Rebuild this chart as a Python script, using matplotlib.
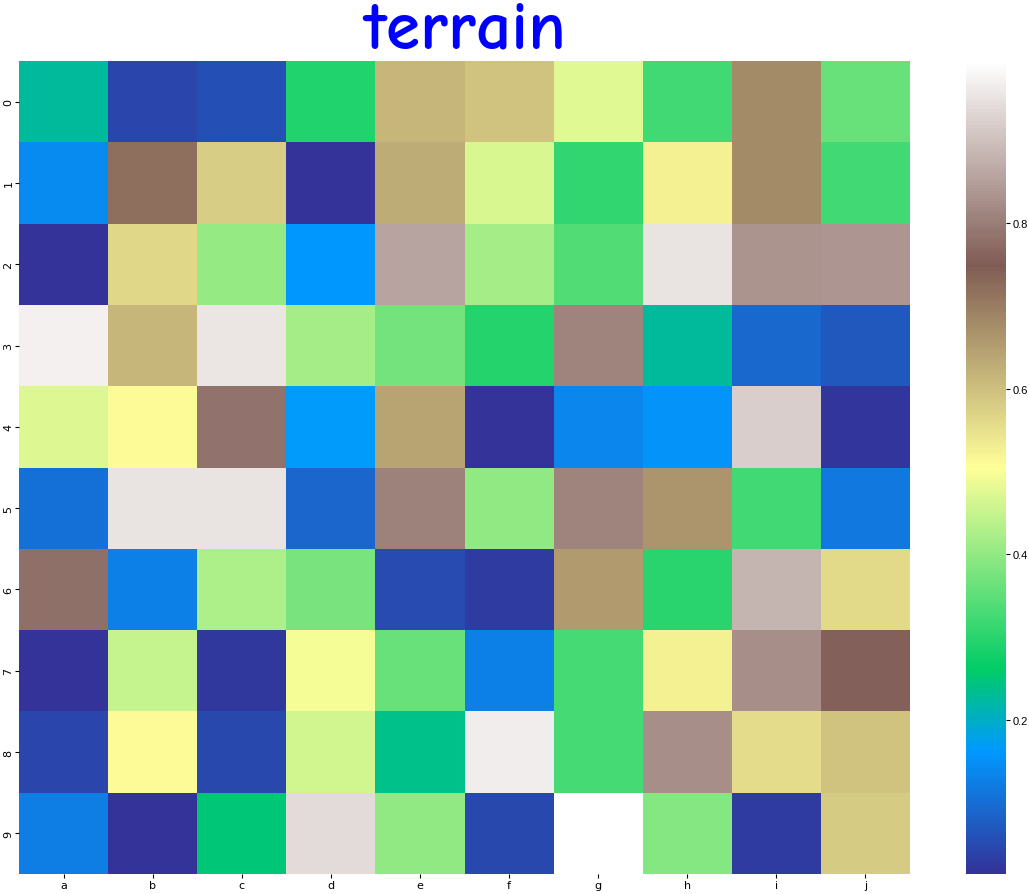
import numpy as np
import pandas as pd
import matplotlib
matplotlib.use("Agg")
import matplotlib.pyplot as plt
import seaborn as sns

cols = ["a", "b", "c", "d", "e", "f", "g", "h", "i", "j"]
rows = [str(i) for i in range(10)]

row0 = [0.225, 0.043, 0.058, 0.291, 0.615, 0.597, 0.475, 0.322, 0.679, 0.362]
row1 = [0.144, 0.720, 0.579, 0.015, 0.629, 0.470, 0.308, 0.527, 0.680, 0.322]
row2 = [0.015, 0.563, 0.405, 0.160, 0.856, 0.420, 0.340, 0.953, 0.832, 0.835]
row3 = [0.970, 0.615, 0.955, 0.418, 0.373, 0.297, 0.810, 0.225, 0.093, 0.068]
row4 = [0.472, 0.510, 0.782, 0.167, 0.640, 0.015, 0.133, 0.153, 0.923, 0.018]
row5 = [0.103, 0.952, 0.952, 0.090, 0.805, 0.398, 0.810, 0.665, 0.323, 0.115]
row6 = [0.780, 0.128, 0.425, 0.377, 0.052, 0.029, 0.655, 0.300, 0.882, 0.560]
row7 = [0.014, 0.450, 0.025, 0.497, 0.362, 0.128, 0.325, 0.525, 0.825, 0.755]
row8 = [0.041, 0.510, 0.047, 0.462, 0.240, 0.968, 0.327, 0.825, 0.555, 0.595]
row9 = [0.125, 0.016, 0.250, 0.940, 0.398, 0.045, 0.996, 0.387, 0.027, 0.583]

df = pd.DataFrame([row0, row1, row2, row3, row4, row5, row6, row7, row8, row9],
                  index=rows, columns=cols)

fig = plt.figure(figsize=(10.29, 8.95), dpi=100)
ax = fig.add_axes([19 / 1029, 20 / 895, 891 / 1029, 813 / 895])
cax = fig.add_axes([966 / 1029, 20 / 895, 40 / 1029, 813 / 895])

sns.heatmap(df, cmap="terrain", ax=ax, cbar_ax=cax)
ax.tick_params(axis="y", labelrotation=90, length=3, pad=1, labelsize=8)
ax.tick_params(axis="x", length=3, pad=1, labelsize=8)
cax.tick_params(length=3, pad=1.5, labelsize=8)
for t in cax.get_yticklabels():
    t.set_family("Liberation Sans")
ax.set_title("terrain", fontsize=50, fontweight="bold", color="blue",
             family=["Comic Neue", "DejaVu Sans"], pad=8)

fig.savefig("out.png", dpi=100)
